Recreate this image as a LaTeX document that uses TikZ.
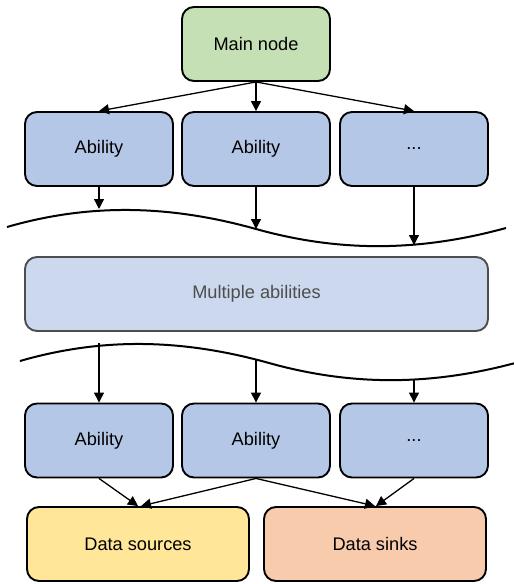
\documentclass[tikz,border=0pt]{standalone}
\usepackage{fontspec}
\setmainfont{Liberation Sans}
\usetikzlibrary{arrows.meta}
\definecolor{mainfill}{HTML}{C5E0B4}
\definecolor{abfill}{HTML}{B4C7E7}
\definecolor{multifill}{HTML}{CBD8EE}
\definecolor{multiline}{HTML}{4D4D4D}
\definecolor{srcfill}{HTML}{FFE699}
\definecolor{sinkfill}{HTML}{F8CBAD}
\tikzset{
  box/.style={draw=black, line width=1.9pt, rounded corners=12pt, inner sep=0pt,
    font=\fontsize{18.2}{21}\selectfont, text=black},
  ability/.style={box, fill=abfill, minimum width=148pt, minimum height=74pt},
  conn/.style={line width=1.3pt, -{Triangle[length=10pt,width=10pt]}},
  wave/.style={line width=2pt},
}
\begin{document}
\begin{tikzpicture}[x=1pt,y=-1pt]
\useasboundingbox (0,0) rectangle (514,584);
\clip (0,0) rectangle (514,584);

% top of the hierarchy
\node[box, fill=mainfill, minimum width=148pt, minimum height=74pt] (main) at (256,44) {Main node};

% first row of abilities
\node[ability] (a1) at (99,149) {Ability};
\node[ability] (a2) at (256,149) {Ability};
\node[ability] (a3) at (414,149) {...};

% upper cut line
\draw[wave] (7,227) .. controls (90,203) and (170,205) .. (256,229)
  .. controls (342,253) and (422,251) .. (506,228);
\coordinate (w1a) at (99,209);
\coordinate (w1b) at (256,229);
\coordinate (w1c) at (414,245);

% collapsed middle part
\node[box, draw=multiline, text=multiline, fill=multifill, minimum width=463pt, minimum height=74pt] (multi) at (256.5,294) {Multiple abilities};

% lower cut line
\draw[wave] (20,361) .. controls (103,337) and (183,339) .. (269,363)
  .. controls (355,387) and (435,385) .. (519,362);
\coordinate (w2a) at (99,343);
\coordinate (w2b) at (256,360);
\coordinate (w2c) at (414,380);

% last row of abilities
\node[ability] (b1) at (99,440.5) {Ability};
\node[ability] (b2) at (256,440.5) {Ability};
\node[ability] (b3) at (414,440.5) {...};

% data endpoints
\node[box, fill=srcfill, minimum width=222pt, minimum height=74pt] (src) at (138,544) {Data sources};
\node[box, fill=sinkfill, minimum width=222pt, minimum height=74pt] (sink) at (375,544) {Data sinks};

% connectors
\draw[conn] (main.south) -- (a1.north);
\draw[conn] (main.south) -- (a2.north);
\draw[conn] (main.south) -- (a3.north);
\draw[conn] (a1.south) -- (w1a);
\draw[conn] (a2.south) -- (w1b);
\draw[conn] (a3.south) -- (w1c);
\draw[conn] (w2a) -- (b1.north);
\draw[conn] (w2b) -- (b2.north);
\draw[conn] (w2c) -- (b3.north);
\draw[conn] (b1.south) -- (src.north);
\draw[conn] (b2.south) -- ([xshift=3pt]src.north);
\draw[conn] (b2.south) -- (sink.north);
\draw[conn] (b3.south) -- ([xshift=1pt]sink.north);
\end{tikzpicture}
\end{document}
